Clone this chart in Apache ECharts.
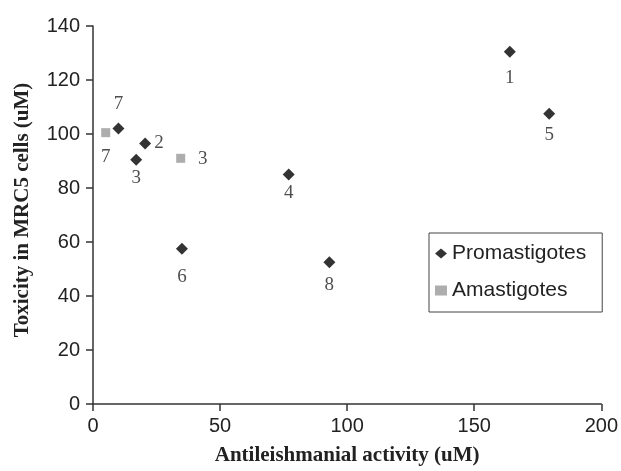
<!DOCTYPE html>
<html>
<head>
<meta charset="utf-8">
<script src="https://cdn.jsdelivr.net/npm/echarts@6/dist/echarts.min.js"></script>
<style>
  html, body { margin: 0; padding: 0; background: #fff; }
  #chart { width: 621px; height: 471px; }
</style>
</head>
<body>
<div id="chart"></div>
<script>
// values
var promaX = [164, 20.5, 17, 77, 179.5, 35, 10, 93];
var promaY = [130.5, 96.5, 90.5, 85, 107.5, 57.5, 102, 52.5];
var promaNames = ['1', '2', '3', '4', '5', '6', '7', '8'];

var amaX = [34.5, 5];
var amaY = [91, 100.5];
var amaNames = ['3', '7'];

var xTicks = [0, 50, 100, 150, 200];
var yTicks = [0, 20, 40, 60, 80, 100, 120, 140];

// where each number sits relative to its marker
var promaLabelOff = [[0, 26], [14, 0], [0, 18], [0, 19], [0, 21], [0, 28], [0, -25], [0, 23]];
var amaLabelOff = [[22, 1], [0, 24]];

function build(xs, ys, names, offs) {
    var out = [];
    for (var i = 0; i < xs.length; i++) {
        out.push({
            value: [xs[i], ys[i]],
            name: names[i],
            label: { offset: offs[i] }
        });
    }
    return out;
}

var numLabel = {
    show: true,
    position: 'inside',
    formatter: function (p) { return p.name; },
    fontFamily: '"Liberation Serif", "DejaVu Serif", serif',
    fontSize: 19,
    color: '#222'
};

var sans = '"Liberation Sans", Arial, sans-serif';
var serif = '"Liberation Serif", "DejaVu Serif", serif';

var myChart = echarts.init(document.getElementById('chart'));
var option = {
    animation: false,
    backgroundColor: '#fff',
    grid: { left: 93, right: 16, top: 26, bottom: 65 },
    legend: {
        orient: 'vertical',
        left: 429,
        top: 233,
        padding: [10, 16, 11, 6],
        itemGap: 16,
        itemWidth: 12,
        itemHeight: 10,
        borderColor: '#444',
        borderWidth: 1,
        textStyle: { fontFamily: sans, fontSize: 21, color: '#222' },
        data: [
            { name: 'Promastigotes', icon: 'diamond', itemStyle: { color: '#000' } },
            { name: 'Amastigotes', icon: 'rect', itemStyle: { color: '#999' } }
        ]
    },
    xAxis: {
        type: 'value',
        min: xTicks[0],
        max: xTicks[xTicks.length - 1],
        interval: 50,
        name: 'Antileishmanial activity (uM)',
        nameLocation: 'middle',
        nameGap: 41,
        nameTextStyle: { fontFamily: serif, fontWeight: 'bold', fontSize: 21, color: '#222' },
        axisLine: { show: true, lineStyle: { color: '#333', width: 1.5 } },
        axisTick: { show: true, length: 7, lineStyle: { color: '#333', width: 1.5 } },
        axisLabel: { fontFamily: sans, fontSize: 20, color: '#222', margin: 12 },
        splitLine: { show: false }
    },
    yAxis: {
        type: 'value',
        min: yTicks[0],
        max: yTicks[yTicks.length - 1],
        interval: 20,
        name: 'Toxicity in MRC5 cells (uM)',
        nameLocation: 'middle',
        nameGap: 60,
        nameTextStyle: { fontFamily: serif, fontWeight: 'bold', fontSize: 21, color: '#222', padding: [0, 0, 0, 10] },
        axisLine: { show: true, lineStyle: { color: '#333', width: 1.5 } },
        axisTick: { show: true, length: 7, lineStyle: { color: '#333', width: 1.5 } },
        axisLabel: { fontFamily: sans, fontSize: 20, color: '#222', margin: 13 },
        splitLine: { show: false }
    },
    series: [
        {
            name: 'Promastigotes',
            type: 'scatter',
            symbol: 'diamond',
            symbolSize: 12,
            itemStyle: { color: '#000' },
            label: numLabel,
            data: build(promaX, promaY, promaNames, promaLabelOff)
        },
        {
            name: 'Amastigotes',
            type: 'scatter',
            symbol: 'rect',
            symbolSize: 9,
            itemStyle: { color: '#999' },
            label: numLabel,
            data: build(amaX, amaY, amaNames, amaLabelOff)
        }
    ]
};
myChart.setOption(option);
</script>
</body>
</html>
